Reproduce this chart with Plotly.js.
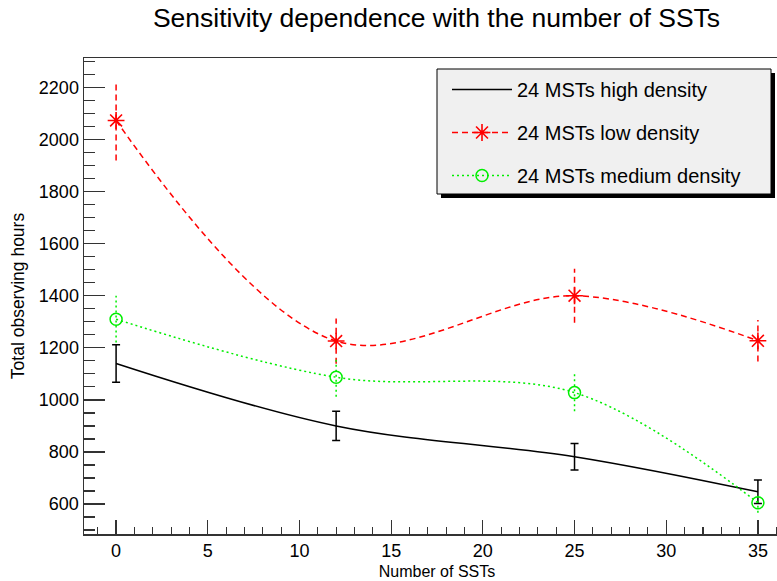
<!DOCTYPE html>
<html>
<head>
<meta charset="utf-8">
<script src="https://cdn.plot.ly/plotly-3.0.1.min.js"></script>
<style>
html,body{margin:0;padding:0;overflow:hidden;background:#fff;}
#chart{width:792px;height:581px;}
</style>
</head>
<body>
<div id="chart"></div>
<script>
// ---- data ----
const nSST = [0, 12, 25, 35];
const highDensity = [1140, 900, 782, 647];
const highDensityErr = [72, 56, 51, 45];
const lowDensity = [2073, 1226, 1400, 1227];
const lowDensityErr = [154, 87, 104, 80];
const medDensity = [1310, 1087, 1028, 605];
const medDensityErr = [90, 75, 72, 38];
const seriesNames = ["24 MSTs high density", "24 MSTs low density", "24 MSTs medium density"];

const FONT = "Liberation Sans, Arial, Helvetica, sans-serif";
const RED = "#ff0000", GREEN = "#00ee00", BLACK = "#000000";

// vertical error segments built from the data arrays
function errSegments(xs, ys, es) {
  const ex = [], ey = [];
  xs.forEach((x, i) => { ex.push(x, x, null); ey.push(ys[i] - es[i], ys[i] + es[i], null); });
  return {x: ex, y: ey};
}
const lowSeg = errSegments(nSST, lowDensity, lowDensityErr);
const medSeg = errSegments(nSST, medDensity, medDensityErr);

const traces = [
  {
    x: nSST, y: highDensity, name: seriesNames[0], legendgroup: "a",
    mode: "lines", type: "scatter",
    line: {color: BLACK, width: 1.5, shape: "spline", smoothing: 1},
    error_y: {type: "data", array: highDensityErr, visible: true, color: BLACK, thickness: 1.5, width: 4}
  },
  {
    x: nSST, y: lowDensity, name: seriesNames[1], legendgroup: "b",
    mode: "lines+markers", type: "scatter",
    line: {color: RED, width: 1.5, dash: "6px,4px", shape: "spline", smoothing: 1},
    marker: {symbol: "asterisk-open", size: 14, color: RED, line: {color: RED, width: 1.6}}
  },
  {
    x: nSST, y: medDensity, name: seriesNames[2], legendgroup: "c",
    mode: "lines+markers", type: "scatter",
    line: {color: GREEN, width: 1.5, dash: "2px,3px", shape: "spline", smoothing: 1},
    marker: {symbol: "circle-open", size: 12, color: GREEN, line: {color: GREEN, width: 1.5}}
  },
  {
    x: lowSeg.x, y: lowSeg.y, mode: "lines", showlegend: false, hoverinfo: "skip",
    legendgroup: "d", line: {color: RED, width: 1.5, dash: "6px,4px"}
  },
  {
    x: medSeg.x, y: medSeg.y, mode: "lines", showlegend: false, hoverinfo: "skip",
    legendgroup: "e", line: {color: GREEN, width: 1.5, dash: "2px,3px"}
  }
];

const W = 792, H = 581, L = 84, R = 2, T = 58, B = 47;
const pw = W - L - R, ph = H - T - B;
function px(x) { return (x - L) / pw; }
function py(y) { return (H - B - y) / ph; }

const layout = {
  width: W, height: H,
  margin: {l: L, r: R, t: T, b: B, pad: 0},
  paper_bgcolor: "#ffffff", plot_bgcolor: "#ffffff",
  font: {family: FONT, color: "#000"},
  title: {
    text: "Sensitivity dependence with the number of SSTs",
    font: {family: FONT, size: 26.5, color: "#000"},
    x: 436.5 / W, xanchor: "center", y: 1 - 18 / H, yanchor: "middle"
  },
  showlegend: true,
  legend: {
    x: px(447), y: py(70), xanchor: "left", yanchor: "top",
    bgcolor: "rgba(0,0,0,0)", borderwidth: 0,
    font: {family: FONT, size: 20, color: "#000"},
    itemwidth: 60, tracegroupgap: 14, traceorder: "grouped"
  },
  xaxis: {
    range: [-1.75, 36.75], tick0: 0, dtick: 5,
    ticks: "inside", ticklen: 14, tickwidth: 1.2, tickcolor: "#333",
    showline: true, linecolor: "#333", linewidth: 1.5, mirror: true,
    showgrid: false, zeroline: false,
    minor: {dtick: 1, ticks: "inside", ticklen: 7, tickwidth: 1.2, tickcolor: "#333", showgrid: false},
    tickfont: {family: FONT, size: 18, color: "#000"},
    title: {text: "Number of SSTs", font: {family: FONT, size: 16, color: "#000"}, standoff: 5}
  },
  yaxis: {
    range: [485, 2313], tick0: 0, dtick: 200,
    ticks: "inside", ticklen: 21, tickwidth: 1.2, tickcolor: "#333",
    showline: true, linecolor: "#333", linewidth: 1.5, mirror: true,
    showgrid: false, zeroline: false,
    minor: {dtick: 50, ticks: "inside", ticklen: 11, tickwidth: 1.2, tickcolor: "#333", showgrid: false},
    tickfont: {family: FONT, size: 18, color: "#000"},
    title: {text: "Total observing hours", font: {family: FONT, size: 17.5, color: "#000"}, standoff: 9}
  },
  shapes: [
    {type: "rect", xref: "paper", yref: "paper", layer: "above",
     x0: px(441), x1: px(775), y0: py(198), y1: py(73),
     fillcolor: "#000", line: {width: 0}},
    {type: "rect", xref: "paper", yref: "paper", layer: "above",
     x0: px(437), x1: px(771), y0: py(194), y1: py(69),
     fillcolor: "#f0f0f0", line: {color: "#000", width: 1}}
  ]
};

Plotly.newPlot("chart", traces, layout, {displayModeBar: false, staticPlot: true});
</script>
</body>
</html>
